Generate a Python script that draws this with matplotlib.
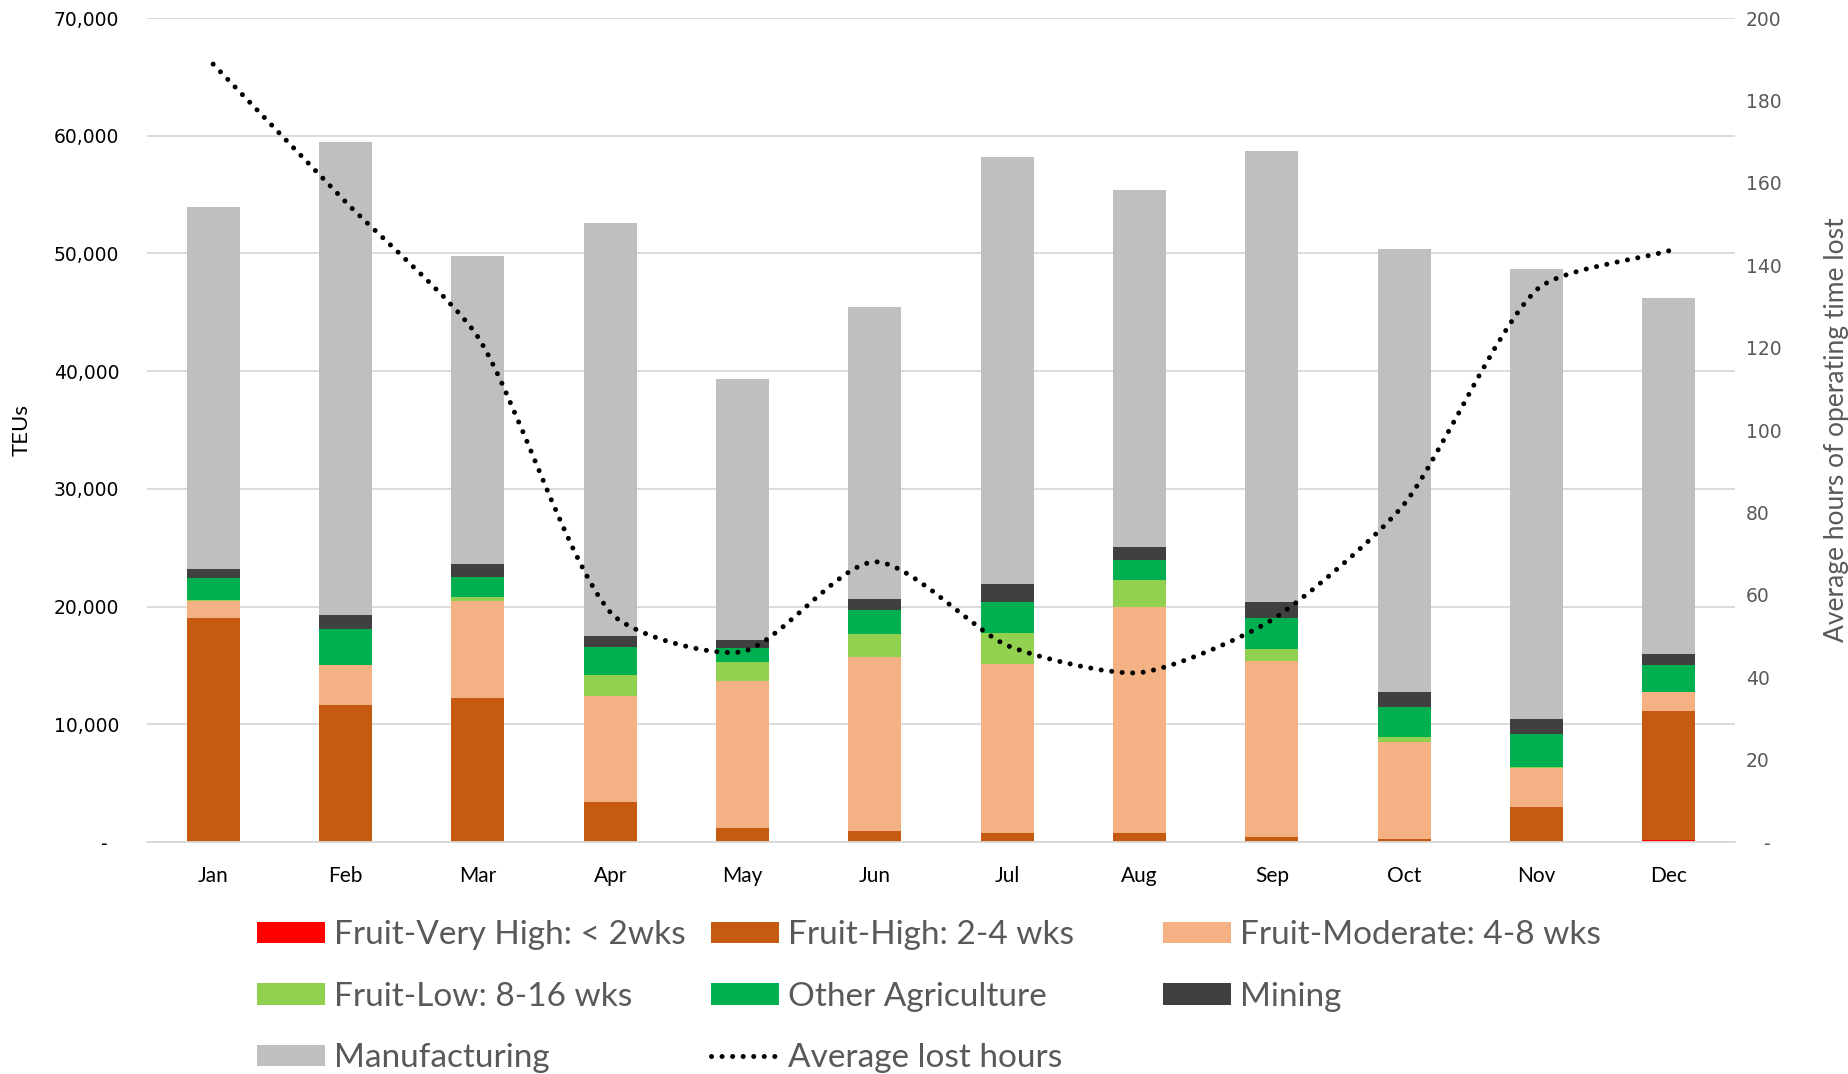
import numpy as np
import matplotlib
matplotlib.use('Agg')
import matplotlib.pyplot as plt
from matplotlib.path import Path
from matplotlib.patches import PathPatch, Patch
from matplotlib.lines import Line2D
from matplotlib.ticker import FuncFormatter

# Monthly TEUs by cargo group, plus average lost operating hours
months = ['Jan', 'Feb', 'Mar', 'Apr', 'May', 'Jun', 'Jul', 'Aug', 'Sep', 'Oct', 'Nov', 'Dec']
fruit_very_high = [0, 0, 0, 0, 0, 0, 0, 0, 0, 0, 0, 150]
fruit_high = [19030, 11640, 12210, 3400, 1215, 935, 765, 735, 425, 255, 2975, 10980]
fruit_moderate = [1475, 3400, 8240, 9000, 12490, 14760, 14385, 19205, 14955, 8215, 3315, 1615]
fruit_low = [60, 0, 365, 1760, 1570, 2010, 2610, 2320, 1020, 450, 100, 0]
other_agri = [1835, 3030, 1700, 2430, 1210, 2010, 2660, 1700, 2600, 2520, 2800, 2265]
mining = [820, 1190, 1105, 900, 680, 930, 1470, 1130, 1420, 1330, 1250, 990]
manufacturing = [30730, 40240, 26170, 35120, 22200, 24840, 36340, 30280, 38320, 37610, 38230, 30250]
avg_lost_hours = [188.8, 155.4, 122.6, 55.8, 46.2, 68, 47.7, 41.1, 53.9, 82, 134, 143.5]

series = [
    ('Fruit-Very High: < 2wks', fruit_very_high, '#FF0000'),
    ('Fruit-High: 2-4 wks', fruit_high, '#C55A11'),
    ('Fruit-Moderate: 4-8 wks', fruit_moderate, '#F4B183'),
    ('Fruit-Low: 8-16 wks', fruit_low, '#92D050'),
    ('Other Agriculture', other_agri, '#00B050'),
    ('Mining', mining, '#404040'),
    ('Manufacturing', manufacturing, '#BFBFBF'),
]

label_font = ['Lato', 'DejaVu Sans']
grid_col = '#D9D9D9'

fig = plt.figure(figsize=(18.49, 10.74), dpi=100)
ax = fig.add_axes([147 / 1849, 1 - 842 / 1074, (1735 - 147) / 1849, (842 - 18) / 1074])
ax2 = ax.twinx()

x = np.arange(len(months))
bottom = np.zeros(len(months))
for name, vals, col in series:
    vals = np.array(vals, dtype=float)
    ax.bar(x, vals, 0.40, bottom=bottom, color=col, label=name, zorder=2)
    bottom += vals

ax.set_xlim(-0.5, len(months) - 0.5)
ax.set_ylim(0, 70000)
ax.set_yticks(np.arange(0, 70001, 10000))
ax.yaxis.set_major_formatter(FuncFormatter(lambda v, p: '-  ' if v == 0 else f'{v:,.0f}'))
ax.grid(axis='y', color=grid_col, lw=1.3, zorder=0)
ax.set_axisbelow(True)
for s in ['top', 'right', 'left']:
    ax.spines[s].set_visible(False)
ax.spines['bottom'].set_color(grid_col)
ax.spines['bottom'].set_linewidth(1.3)
ax.tick_params(axis='y', length=0, pad=20, labelsize=13.5, labelcolor='black')
ax.tick_params(axis='x', length=0, pad=17)
ax.set_xticks(x)
ax.set_xticklabels(months, family=label_font, fontsize=15)
ax.set_ylabel('TEUs', fontsize=16, family=label_font, labelpad=16)

# smoothed average-hours line: Bezier segments through the monthly points,
# control arms worked out in pixel space and scaled by segment length
ax2.set_ylim(0, 200)
pts = np.column_stack([x, avg_lost_hours]).astype(float)
px_per = np.array([(1735 - 147) / 12, (842 - 18) / 200])
P = pts * px_per
n = len(P)
tang = []
for i in range(n):
    d = P[min(i + 1, n - 1)] - P[max(i - 1, 0)]
    tang.append(d / np.hypot(*d))
verts = [tuple(pts[0])]
codes = [Path.MOVETO]
arm = 0.22
for i in range(n - 1):
    seg = np.hypot(*(P[i + 1] - P[i]))
    c1 = (P[i] + tang[i] * seg * arm) / px_per
    c2 = (P[i + 1] - tang[i + 1] * seg * arm) / px_per
    verts += [tuple(c1), tuple(c2), tuple(pts[i + 1])]
    codes += [Path.CURVE4] * 3
dotted = (0, (0.01, 2.1))
ax2.add_patch(PathPatch(Path(verts, codes), fill=False, edgecolor='black', lw=3.6,
                        linestyle=dotted, capstyle='round', zorder=3))
ax2.set_yticks(np.arange(0, 201, 20))
ax2.yaxis.set_major_formatter(FuncFormatter(lambda v, p: '   -' if v == 0 else f'{v:.0f}'))
for s in ax2.spines.values():
    s.set_visible(False)
ax2.tick_params(axis='y', length=0, pad=8, labelsize=13.5, labelcolor='#595959')
ax2.set_ylabel('Average hours of operating time lost', fontsize=19, family=label_font,
               color='#595959', labelpad=30)

# legend laid out as three fixed-width columns
handles = {name: Patch(facecolor=col) for name, _, col in series}
handles['Average lost hours'] = Line2D([], [], color='black', lw=3.6, linestyle=dotted,
                                       dash_capstyle='round')
columns = [
    ['Fruit-Very High: < 2wks', 'Fruit-Low: 8-16 wks', 'Manufacturing'],
    ['Fruit-High: 2-4 wks', 'Other Agriculture', 'Average lost hours'],
    ['Fruit-Moderate: 4-8 wks', 'Mining'],
]
col_x = [257, 711, 1163]
for names, cx in zip(columns, col_x):
    fig.legend([handles[k] for k in names], names, loc='upper left',
               bbox_to_anchor=(cx / 1849, 1 - 920 / 1074), frameon=False,
               prop={'family': label_font, 'size': 24}, labelcolor='#595959',
               handlelength=2.05, handleheight=0.6, handletextpad=0.25,
               labelspacing=0.95, borderpad=0, borderaxespad=0)

fig.savefig('out.png', dpi=100)
